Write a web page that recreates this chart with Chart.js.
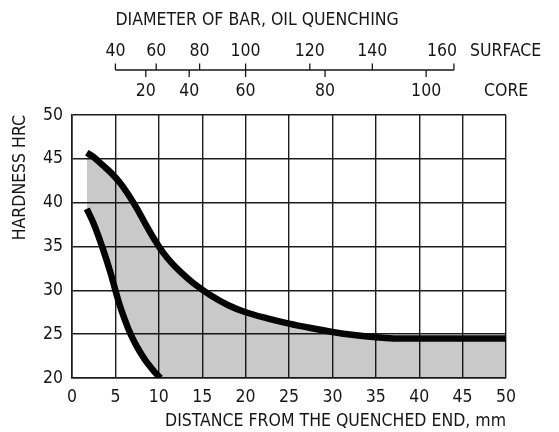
<!DOCTYPE html>
<html>
<head>
<meta charset="utf-8">
<script src="https://cdn.jsdelivr.net/npm/chart.js@4.4.1/dist/chart.umd.min.js"></script>
<style>
  html, body { margin: 0; padding: 0; background: #fff; }
  #wrap { width: 559px; height: 432px; position: relative; }
</style>
</head>
<body>
<div id="wrap"><canvas id="c" width="559" height="432"></canvas></div>
<script>
// ---- data ----
const xTicks = [0, 5, 10, 15, 20, 25, 30, 35, 40, 45, 50];
const yTicks = [20, 25, 30, 35, 40, 45, 50];

const upperX = [1.7, 2.5, 3.5, 4.5, 5.5, 6.5, 7.5, 8.5, 9.5, 10.5, 11.5, 12.5, 14, 16, 18, 20, 22.5, 25, 27.5, 30, 32.5, 35, 37.5, 40, 50];
const upperY = [45.7, 45.2, 44.3, 43.4, 42.3, 40.9, 39.3, 37.5, 35.8, 34.3, 33.1, 32.1, 30.8, 29.4, 28.3, 27.5, 26.8, 26.2, 25.7, 25.25, 24.9, 24.65, 24.5, 24.5, 24.5];

const lowerX = [1.7, 2.5, 3.5, 4.5, 5, 5.5, 6, 6.5, 7, 7.5, 8, 8.5, 9, 9.5, 10.2];
const lowerY = [39.3, 37.6, 34.9, 31.8, 30.0, 28.3, 26.9, 25.6, 24.5, 23.55, 22.7, 21.95, 21.3, 20.7, 20.0];

// top auxiliary axes: diameter labels and the distance (mm) they sit at
const surfaceLabels = ['40', '60', '80', '100', '120', '140', '160'];
const surfaceDist   = [5.0, 9.7, 14.7, 20.0, 27.4, 34.6, 44.0];
const coreLabels = ['20', '40', '60', '80', '100'];
const coreDist   = [8.5, 13.5, 20.0, 29.15, 40.8];

const topTitle = 'DIAMETER OF BAR, OIL QUENCHING';
const surfaceName = 'SURFACE';
const coreName = 'CORE';
const xTitle = 'DISTANCE FROM THE QUENCHED END, mm';
const yTitle = 'HARDNESS HRC';

// ---- styling ----
const FONT = "'DejaVu Sans Condensed', 'Liberation Sans Narrow', sans-serif";
const FSIZE = 17.5;
const INK = '#161616';
const GRID = '#1c1c1c';
Chart.defaults.font.family = FONT;
Chart.defaults.font.size = FSIZE;
Chart.defaults.color = INK;

const pts = (xs, ys) => xs.map((x, i) => ({ x: x, y: ys[i] }));
const boundary = pts(lowerX, lowerY).concat([{ x: 50, y: 20 }]);

const topAxesPlugin = {
  id: 'topAxes',
  afterDraw(chart) {
    const xs = chart.scales.x;
    const ctx = chart.ctx;
    const lineY = 70;
    ctx.save();
    ctx.strokeStyle = INK;
    ctx.fillStyle = INK;
    ctx.lineWidth = 1.3;
    ctx.beginPath();
    ctx.moveTo(xs.getPixelForValue(surfaceDist[0]), lineY);
    ctx.lineTo(xs.getPixelForValue(surfaceDist[surfaceDist.length - 1]), lineY);
    ctx.stroke();
    ctx.font = FSIZE + 'px ' + FONT;
    ctx.textBaseline = 'middle';
    surfaceDist.forEach((d, i) => {
      const px = xs.getPixelForValue(d);
      ctx.beginPath();
      ctx.moveTo(px, lineY - 6.5);
      ctx.lineTo(px, lineY);
      ctx.stroke();
      const last = i === surfaceDist.length - 1;
      ctx.textAlign = last ? 'right' : 'center';
      ctx.fillText(surfaceLabels[i], last ? px + 3 : px, 51);
    });
    coreDist.forEach((d, i) => {
      const px = xs.getPixelForValue(d);
      ctx.beginPath();
      ctx.moveTo(px, lineY);
      ctx.lineTo(px, lineY + 7);
      ctx.stroke();
      ctx.textAlign = 'center';
      ctx.fillText(coreLabels[i], px, 91);
    });
    ctx.textAlign = 'left';
    ctx.fillText(surfaceName, 470, 51);
    ctx.fillText(coreName, 484, 91);
    ctx.fillText(topTitle, xs.getPixelForValue(surfaceDist[0]), 20);
    ctx.restore();
  }
};

new Chart(document.getElementById('c'), {
  type: 'line',
  data: {
    datasets: [
      {
        label: 'upper',
        data: pts(upperX, upperY),
        borderColor: '#050505',
        borderWidth: 6.5,
        borderCapStyle: 'butt',
        pointRadius: 0,
        cubicInterpolationMode: 'monotone',
        fill: 2,
        backgroundColor: 'rgba(0,0,0,0.21)'
      },
      {
        label: 'lower',
        data: pts(lowerX, lowerY),
        borderColor: '#050505',
        borderWidth: 6.5,
        borderCapStyle: 'butt',
        pointRadius: 0,
        cubicInterpolationMode: 'monotone',
        fill: false
      },
      {
        label: 'boundary',
        data: boundary,
        borderWidth: 0,
        borderColor: 'rgba(0,0,0,0)',
        pointRadius: 0,
        cubicInterpolationMode: 'monotone',
        fill: false
      }
    ]
  },
  options: {
    responsive: false,
    animation: false,
    devicePixelRatio: 1,
    layout: { padding: { top: 115, right: 53, left: 0, bottom: 0 } },
    plugins: { legend: { display: false }, tooltip: { enabled: false } },
    scales: {
      x: {
        type: 'linear',
        min: 0, max: 50,
        afterBuildTicks: s => { s.ticks = xTicks.map(v => ({ value: v })); },
        afterFit: s => { s.height = 54; },
        ticks: { padding: 9, maxRotation: 0, autoSkip: false, color: INK },
        grid: { color: GRID, lineWidth: 1.4, drawTicks: false },
        border: { color: GRID, width: 1.6 },
        title: { display: true, text: xTitle, align: 'end', padding: { top: 2, bottom: 0 }, color: INK }
      },
      y: {
        type: 'linear',
        min: 20, max: 50,
        afterBuildTicks: s => { s.ticks = yTicks.map(v => ({ value: v })); },
        afterFit: s => { s.width = 72; },
        ticks: { padding: 9, autoSkip: false, color: INK },
        grid: { color: GRID, lineWidth: 1.4, drawTicks: false },
        border: { color: GRID, width: 1.6 },
        title: { display: true, text: yTitle, align: 'end', padding: { top: 10, bottom: 0 }, color: INK }
      }
    }
  },
  plugins: [topAxesPlugin]
});
</script>
</body>
</html>
